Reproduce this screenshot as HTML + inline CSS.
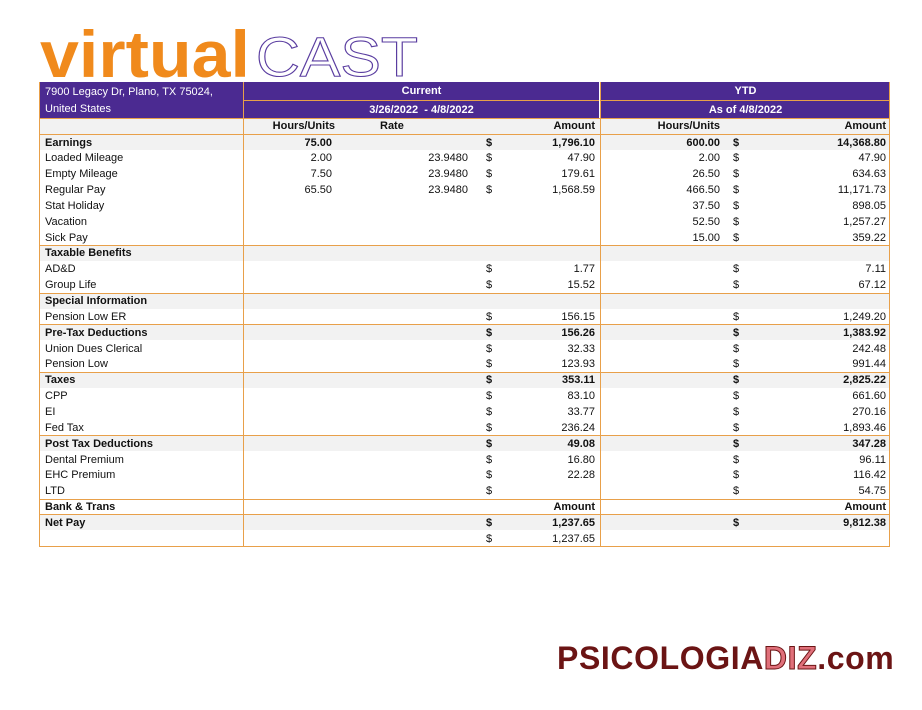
<!DOCTYPE html>
<html><head><meta charset="utf-8"><style>
body{margin:0;width:922px;height:710px;background:#fff;position:relative;overflow:hidden;font-family:"Liberation Sans",sans-serif;}
#logo{position:absolute;left:38px;top:18px;}
.hdr{position:absolute;background:#4b2a91;color:#fff;font-size:11px;}
.c{position:absolute;font-size:11px;color:#111;white-space:nowrap;}
.r{text-align:right}
.b{font-weight:bold}
.row{position:absolute;left:39px;width:851px;height:16px;}
.line{position:absolute;background:#e8a04a;}
</style></head><body>
<svg id="logo" width="400" height="64">
<text x="2" y="59" font-family="Liberation Sans" font-weight="bold" font-size="66" fill="#f08a1c" textLength="210" lengthAdjust="spacingAndGlyphs">virtual</text>
<text x="218" y="58" font-family="Liberation Sans" font-size="56" fill="none" stroke="#5a3da0" stroke-width="1.1" textLength="162" lengthAdjust="spacingAndGlyphs">CAST</text>
</svg>
<div class="hdr" style="left:39px;top:82px;width:204px;height:36px;padding:2px 6px;box-sizing:border-box;line-height:17px">7900 Legacy Dr, Plano, TX 75024,<br>United States</div>
<div class="hdr b" style="left:244px;top:82px;width:355px;height:18px;text-align:center;line-height:18px">Current</div>
<div class="hdr b" style="left:244px;top:100px;width:355px;height:18px;text-align:center;line-height:18px;border-top:1px solid #e8a04a;box-sizing:border-box">3/26/2022 &nbsp;- 4/8/2022</div>
<div class="hdr b" style="left:601px;top:82px;width:289px;height:18px;text-align:center;line-height:18px">YTD</div>
<div class="hdr b" style="left:601px;top:100px;width:289px;height:18px;text-align:center;line-height:18px;border-top:1px solid #e8a04a;box-sizing:border-box">As of 4/8/2022</div>
<div id="tbl"></div>
<div class="c b" style="left:557px;top:640px;font-size:32px;color:#6b1414;letter-spacing:0.6px">PSICOLOGIA<span style="color:#e0707a;-webkit-text-stroke:1px #6b1414">DIZ</span>.com</div>
<script>
const labels=["Earnings","Loaded Mileage","Empty Mileage","Regular Pay","Stat Holiday","Vacation","Sick Pay","Taxable Benefits","AD&D","Group Life","Special Information","Pension Low ER","Pre-Tax Deductions","Union Dues Clerical","Pension Low","Taxes","CPP","EI","Fed Tax","Post Tax Deductions","Dental Premium","EHC Premium","LTD","Bank & Trans","Net Pay",""];
const bold=[1,0,0,0,0,0,0,1,0,0,1,0,1,0,0,1,0,0,0,1,0,0,0,1,1,0];
const curHours=["75.00","2.00","7.50","65.50","","","","","","","","","","","","","","","","","","","","","",""];
const curRate=["","23.9480","23.9480","23.9480","","","","","","","","","","","","","","","","","","","","","",""];
const curAmt=["1,796.10","47.90","179.61","1,568.59","","","","","1.77","15.52","","156.15","156.26","32.33","123.93","353.11","83.10","33.77","236.24","49.08","16.80","22.28","","Amount","1,237.65","1,237.65"];
const curDollar=[1,1,1,1,0,0,0,0,1,1,0,1,1,1,1,1,1,1,1,1,1,1,1,0,1,1];
const ytdHours=["600.00","2.00","26.50","466.50","37.50","52.50","15.00","","","","","","","","","","","","","","","","","","",""];
const ytdAmt=["14,368.80","47.90","634.63","11,171.73","898.05","1,257.27","359.22","","7.11","67.12","","1,249.20","1,383.92","242.48","991.44","2,825.22","661.60","270.16","1,893.46","347.28","96.11","116.42","54.75","Amount","9,812.38",""];
const ytdDollar=[1,1,1,1,1,1,1,0,1,1,0,1,1,1,1,1,1,1,1,1,1,1,1,0,1,0];
const T=document.getElementById('tbl');
function add(html,x,y,w,cls,name){const d=document.createElement('div');d.className='c '+cls;d.style.left=x+'px';d.style.top=y+'px';if(w)d.style.width=w+'px';d.textContent=html;


T.appendChild(d);}
function ln(x,y,w,h,name){const d=document.createElement('div');d.className='line';d.style.cssText=`left:${x}px;top:${y}px;width:${w}px;height:${h}px`;


T.appendChild(d);}
const top0=134,rh=15.85;
const hr=document.createElement('div');hr.className='row';hr.style.top='118px';hr.style.background='#f2f2f2';


T.appendChild(hr);
add('Hours/Units',255,120,80,'b r','col-current-hours');
add('Rate',380,120,40,'b','col-rate');
add('Amount',515,120,80,'b r','col-current-amount');
add('Hours/Units',640,120,80,'b r','col-ytd-hours');
add('Amount',806,120,80,'b r','col-ytd-amount');
labels.forEach((l,i)=>{
 const y=top0+i*rh;
 const r=document.createElement('div');r.className='row';r.style.top=y+'px';
 if(bold[i]&&i!==23)r.style.background='#f2f2f2';
 
 
 T.appendChild(r);
 const ty=y+2.5;const bc=bold[i]?'b':'';
 add(l,45,ty,0,bc,'row-label');
 add(curHours[i],252,ty,80,'r '+bc,'current-hours');
 add(curRate[i],388,ty,80,'r','current-rate');
 if(curDollar[i])add('$',486,ty,0,bc,'current-dollar');
 add(curAmt[i],515,ty,80,'r '+bc,'current-amount');
 add(ytdHours[i],640,ty,80,'r '+bc,'ytd-hours');
 if(ytdDollar[i])add('$',733,ty,0,bc,'ytd-dollar');
 add(ytdAmt[i],806,ty,80,'r '+bc,'ytd-amount');
 if(bold[i])ln(39,y,851,1,'section-line');
});
const bottom=top0+labels.length*rh;
ln(39,118,851,1,'header-line');ln(39,134,851,1,'header-line');
ln(39,bottom,851,1,'bottom-line');
ln(39,82,1,bottom-82,'left-border');ln(889,82,1,bottom-82,'right-border');
ln(243,82,1,bottom-82,'col-divider');ln(600,82,1,bottom-82,'col-divider');
</script>
</body></html>
